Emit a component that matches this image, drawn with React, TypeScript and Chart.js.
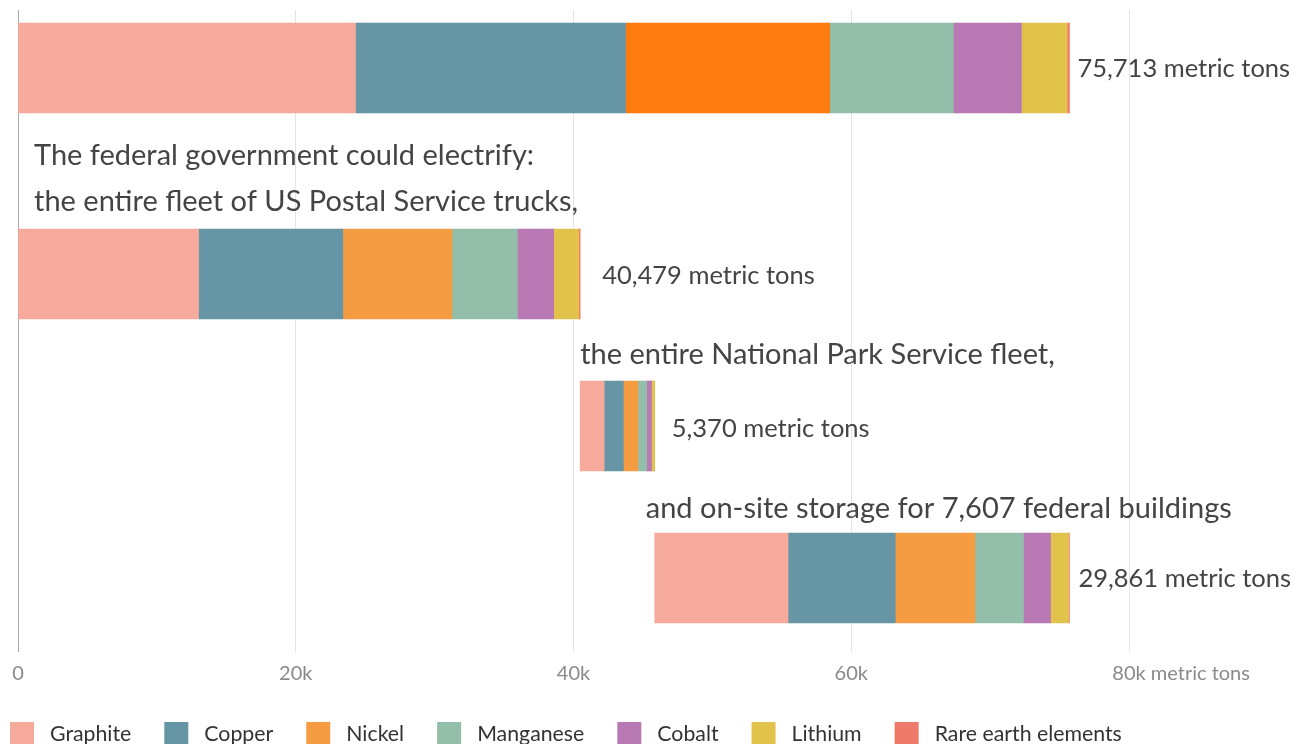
import React, { useEffect, useRef } from "react";
import { Chart, registerables } from "chart.js";

Chart.register(...registerables);

// ---------- data ----------
const rows = ["Total", "US Postal Service trucks", "National Park Service fleet", "Federal buildings storage"];
const rowLabelLines: string[][] = [
  [],
  ["The federal government could electrify:", "the entire fleet of US Postal Service trucks,"],
  ["the entire National Park Service fleet,"],
  ["and on-site storage for 7,607 federal buildings"],
];
const totals = [75713, 40479, 5370, 29861];
const totalLabels = ["75,713 metric tons", "40,479 metric tons", "5,370 metric tons", "29,861 metric tons"];
const offsets = [0, 0, 40479, 45849];

const minerals = ["Graphite", "Copper", "Nickel", "Manganese", "Cobalt", "Lithium", "Rare earth elements"];
const graphite = [24300, 13000, 1730, 9600];
const copper = [19450, 10390, 1380, 7720];
const nickel = [14700, 7860, 1050, 5740];
const manganese = [8900, 4710, 630, 3490];
const cobalt = [4900, 2610, 350, 1950];
const lithium = [3300, 1810, 220, 1300];
const rareEarth = [163, 99, 10, 61];
const mineralValues = [graphite, copper, nickel, manganese, cobalt, lithium, rareEarth];

const xTicks = [0, 20000, 40000, 60000, 80000];
const xTickLabels = ["0", "20k", "40k", "60k", "80k"];
const xUnit = "metric tons";

// ---------- styles / layout ----------
const colors = ["#F5AA9B", "#6696A5", "#F59C42", "#93BFAA", "#B878B3", "#E1C34B", "#F07A6A"];
const totalNickelColor = "#FD7C10";
const FONT = "Lato, 'Noto Sans', sans-serif";
const BAR = 90;
const ROW_BASE = 98;
const LINE_STEP = 54;
const labelDx = [16, 16, 0, -9];
const labelDy = [0, 0, 1, 3];
const valueDx = [8, 22, 17, 9];
const valueDy = [1, 2, 3, 1];

const centers: number[] = [];
rowLabelLines.forEach((lines, i) => {
  const n = Math.max(1, lines.length);
  centers.push(i === 0 ? 0 : centers[i - 1] + ROW_BASE + n * LINE_STEP);
});

const TICK_PAD = 10;
const TICK_FONT = 20;

const textPlugin = {
  id: "textPlugin",
  afterDraw(chart: any) {
    const { ctx } = chart;
    const xs = chart.scales.x;
    const ys = chart.scales.y;
    ctx.save();
    ctx.textAlign = "left";
    ctx.textBaseline = "middle";

    // row annotations
    ctx.font = `29px ${FONT}`;
    ctx.fillStyle = "#444444";
    rowLabelLines.forEach((lines, i) => {
      const top = ys.getPixelForValue(centers[i]) - BAR / 2;
      const x0 = xs.getPixelForValue(offsets[i]) + labelDx[i];
      lines.forEach((t, j) => {
        ctx.fillText(t, x0, top - 27 + labelDy[i] - (lines.length - 1 - j) * 46);
      });
    });

    // value labels
    ctx.font = `25.5px ${FONT}`;
    totalLabels.forEach((t, i) => {
      const xe = xs.getPixelForValue(offsets[i] + totals[i]) + valueDx[i];
      ctx.fillText(t, xe, ys.getPixelForValue(centers[i]) + valueDy[i]);
    });

    // axis unit after last tick label
    ctx.font = `${TICK_FONT}px ${FONT}`;
    ctx.fillStyle = "#8a8a8a";
    const lastVal = xTicks[xTicks.length - 1];
    const lastLab = xTickLabels[xTickLabels.length - 1];
    const lx = xs.getPixelForValue(lastVal) + ctx.measureText(lastLab).width / 2 + ctx.measureText(" ").width;
    ctx.fillText(xUnit, lx, xs.top + 12 + TICK_PAD + (TICK_FONT * 1.2) / 2);

    // legend
    ctx.font = `21.3px ${FONT}`;
    const ly = xs.bottom + 38;
    let cx = 10;
    minerals.forEach((m, i) => {
      ctx.fillStyle = colors[i];
      ctx.fillRect(cx, ly - 12, 24, 24);
      ctx.fillStyle = "#333333";
      ctx.fillText(m, cx + 40, ly);
      cx += 40 + ctx.measureText(m).width + 33;
    });
    ctx.restore();
  },
};

export default function App() {
  const ref = useRef<HTMLCanvasElement | null>(null);
  useEffect(() => {
    document.body.style.margin = "0";
    document.body.style.overflow = "hidden";
    const canvas = ref.current;
    if (!canvas) return;
    const datasets: any[] = [
      {
        label: "offset",
        data: offsets.map((v, i) => ({ x: v, y: centers[i] })),
        backgroundColor: "rgba(0,0,0,0)",
      },
      ...minerals.map((m, k) => ({
        label: m,
        data: mineralValues[k].map((v, i) => ({ x: v, y: centers[i] })),
        backgroundColor: rows.map((_, i) => (k === 2 && i === 0 ? totalNickelColor : colors[k])),
      })),
    ];
    const chart = new Chart(canvas, {
      type: "bar",
      data: { datasets },
      plugins: [textPlugin],
      options: {
        indexAxis: "y",
        animation: false,
        responsive: false,
        devicePixelRatio: 1,
        layout: { padding: { top: 10, left: 18, right: 165, bottom: 64 } },
        datasets: { bar: { barThickness: BAR, borderWidth: 0 } },
        plugins: {
          legend: { display: false },
          tooltip: { enabled: false },
        },
        scales: {
          x: {
            type: "linear",
            stacked: true,
            min: 0,
            max: 80000,
            afterBuildTicks: (s: any) => {
              s.ticks = xTicks.map((v) => ({ value: v }));
            },
            ticks: {
              autoSkip: false,
              maxRotation: 0,
              padding: TICK_PAD,
              color: "#8a8a8a",
              font: { family: FONT, size: TICK_FONT },
              callback: (v: any) => xTickLabels[xTicks.indexOf(Number(v))],
            },
            grid: {
              color: (c: any) => (c.tick && c.tick.value === 0 ? "#a8a8a8" : "#e4e4e4"),
              tickLength: 12,
              lineWidth: 1,
            },
            border: { display: false },
          },
          y: {
            type: "linear",
            stacked: true,
            reverse: true,
            offset: false,
            min: -58,
            max: 572,
            display: false,
          },
        },
      } as any,
    });
    return () => chart.destroy();
  }, []);
  return (
    <div style={{ width: 1294, height: 744, overflow: "hidden" }}>
      <canvas ref={ref} width={1294} height={760} style={{ display: "block" }} />
    </div>
  );
}
